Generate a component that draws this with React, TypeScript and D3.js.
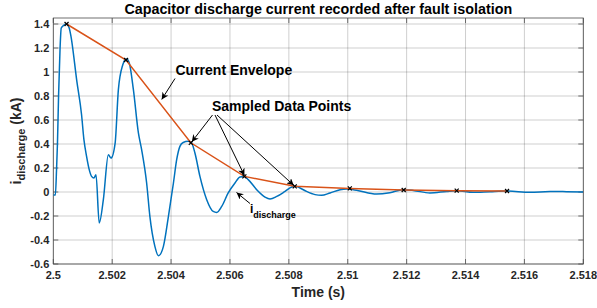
import * as d3 from "d3";

// ── Data ──────────────────────────────────────────────────────────────────────

const timeS = [
  2.5, 2.50007, 2.50011, 2.50014, 2.50018, 2.50023, 2.50027, 2.50034, 2.50045,
  2.50054, 2.50059, 2.5008, 2.50096, 2.50104, 2.50113, 2.50122, 2.5013, 2.50138,
  2.50145, 2.50156, 2.5017, 2.50187, 2.50196, 2.5021, 2.50221, 2.50236, 2.50244,
  2.50249, 2.50258, 2.50272, 2.50289, 2.503, 2.50317, 2.50328, 2.50345, 2.50357,
  2.50374, 2.50391, 2.50408, 2.50419, 2.5043, 2.50441, 2.50458, 2.50468, 2.50481,
  2.50498, 2.50521, 2.50543, 2.50555, 2.50572, 2.50594, 2.50617, 2.50634, 2.50648,
  2.50662, 2.50691, 2.50719, 2.50736, 2.50759, 2.50787, 2.5081, 2.50824, 2.50838,
  2.5086, 2.50889, 2.50911, 2.5094, 2.50974, 2.50996, 2.51019, 2.5103, 2.51098,
  2.51143, 2.51188, 2.51222, 2.51279, 2.51336, 2.5137, 2.51426, 2.51483, 2.5154,
  2.51619, 2.51687, 2.51743, 2.51799,
];

const currentKA = [
  -0.025, -0.025, 0.185, 0.394, 0.811, 1.2, 1.367, 1.386, 1.4,
  1.367, 1.311, 0.922, 0.644, 0.436, 0.297, 0.186, 0.13, 0.117,
  0.144, -0.258, -0.064, 0.311, 0.283, 0.408, 0.853, 1.061, 1.103,
  1.108, 1.075, 0.853, 0.492, 0.353, 0.075, -0.203, -0.453, -0.531,
  -0.453, -0.203, 0.075, 0.269, 0.38, 0.413, 0.422, 0.417, 0.325,
  0.13, -0.064, -0.162, -0.17, -0.12, -0.008, 0.075, 0.125, 0.13,
  0.103, 0.019, -0.042, -0.058, -0.037, 0.005, 0.042, 0.047, 0.033,
  0.005, -0.022, -0.028, -0.008, 0.019, 0.025, 0.019, 0.015, -0.017,
  -0.006, 0.019, 0.013, -0.008, 0.005, 0.011, -0.003, 0.003, 0.008,
  -0.003, 0.005, 0.003, 0,
];

const envelopeT = [2.50045, 2.50247, 2.50467, 2.50649, 2.5082, 2.51007, 2.5119, 2.5137, 2.51541];
const envelopeI = [1.4, 1.1, 0.41, 0.13, 0.047, 0.03, 0.017, 0.011, 0.008];

const xTicks = [2.5, 2.502, 2.504, 2.506, 2.508, 2.51, 2.512, 2.514, 2.516, 2.518];
const yTicks = [-0.6, -0.4, -0.2, 0, 0.2, 0.4, 0.6, 0.8, 1, 1.2, 1.4];

// ── Layout ────────────────────────────────────────────────────────────────────

const W = 597;
const H = 308;
const PLOT = { left: 53.3, right: 583.3, top: 18, bottom: 264 };
const FONT = "'Liberation Sans', Arial, Helvetica, sans-serif";
const TEXT = "#262626";
const BLUE = "#0072BD";
const ORANGE = "#D95319";

export default function App() {
  const x = d3.scaleLinear().domain([2.5, 2.518]).range([PLOT.left, PLOT.right]);
  const y = d3.scaleLinear().domain([-0.6, 1.45]).range([PLOT.bottom, PLOT.top]);

  const wave = d3
    .line<number>()
    .x((_, i) => x(timeS[i]))
    .y((d) => y(d))
    .curve(d3.curveMonotoneX);

  const env = d3
    .line<number>()
    .x((_, i) => x(envelopeT[i]))
    .y((d) => y(d));

  const fmt = (t: number) => String(+t.toFixed(3));

  // sampled-point helper
  const pt = (k: number): [number, number] => [x(envelopeT[k]), y(envelopeI[k])];

  const arrows: [number, number, number, number][] = [
    [175, 78.5, 161.7, 99.5],
    [212.5, 115, pt(2)[0] + 1, pt(2)[1] - 1],
    [215, 115, pt(3)[0], pt(3)[1] - 1],
    [217, 115, pt(4)[0] - 1, pt(4)[1] - 1],
    [250, 203.5, 236.5, 192.5],
  ];

  return (
    <svg
      width={W}
      height={H}
      style={{ position: "absolute", left: 0, top: 0, background: "#fff" }}
      fontFamily={FONT}
    >
      <defs>
        <marker
          id="head"
          viewBox="0 0 10 10"
          refX="10"
          refY="5"
          markerWidth="7"
          markerHeight="7"
          markerUnits="userSpaceOnUse"
          orient="auto"
        >
          <path d="M0,0 L10,5 L0,10 L3,5 Z" fill="#000" />
        </marker>
        <clipPath id="plotclip">
          <rect x={PLOT.left} y={PLOT.top} width={PLOT.right - PLOT.left} height={PLOT.bottom - PLOT.top} />
        </clipPath>
      </defs>

      {/* Grid */}
      <g stroke="#262626" strokeOpacity={0.22} strokeWidth={1}>
        {xTicks.map((t) => (
          <line key={`gx${t}`} x1={x(t)} x2={x(t)} y1={PLOT.top} y2={PLOT.bottom} />
        ))}
        {yTicks.map((t) => (
          <line key={`gy${t}`} x1={PLOT.left} x2={PLOT.right} y1={y(t)} y2={y(t)} />
        ))}
      </g>

      {/* Box + ticks */}
      <rect
        x={PLOT.left}
        y={PLOT.top}
        width={PLOT.right - PLOT.left}
        height={PLOT.bottom - PLOT.top}
        fill="none"
        stroke="#4d4d4d"
        strokeWidth={0.8}
      />
      <g stroke="#4d4d4d" strokeWidth={0.8}>
        {xTicks.map((t) => (
          <g key={`tx${t}`}>
            <line x1={x(t)} x2={x(t)} y1={PLOT.bottom} y2={PLOT.bottom - 5} />
            <line x1={x(t)} x2={x(t)} y1={PLOT.top} y2={PLOT.top + 5} />
          </g>
        ))}
        {yTicks.map((t) => (
          <g key={`ty${t}`}>
            <line x1={PLOT.left} x2={PLOT.left + 5} y1={y(t)} y2={y(t)} />
            <line x1={PLOT.right} x2={PLOT.right - 5} y1={y(t)} y2={y(t)} />
          </g>
        ))}
      </g>

      {/* Tick labels */}
      <g fontSize={11} fontWeight="bold" fill={TEXT}>
        {xTicks.map((t) => (
          <text key={`lx${t}`} x={x(t)} y={279} textAnchor="middle">
            {fmt(t)}
          </text>
        ))}
        {yTicks.map((t) => (
          <text key={`ly${t}`} x={PLOT.left - 4} y={y(t) + 4} textAnchor="end">
            {fmt(t)}
          </text>
        ))}
      </g>

      {/* Series */}
      <g clipPath="url(#plotclip)">
        <path d={wave(currentKA) ?? ""} fill="none" stroke={BLUE} strokeWidth={1.5} strokeLinejoin="round" />
        <path d={env(envelopeI) ?? ""} fill="none" stroke={ORANGE} strokeWidth={1.5} />
        {envelopeI.map((v, i) => {
          const cx = x(envelopeT[i]);
          const cy = y(v);
          return (
            <path
              key={`m${i}`}
              d={`M${cx - 2},${cy - 2}L${cx + 2},${cy + 2}M${cx - 2},${cy + 2}L${cx + 2},${cy - 2}`}
              stroke="#000"
              strokeWidth={1.2}
            />
          );
        })}
      </g>

      {/* Annotations */}
      <g stroke="#000" strokeWidth={1}>
        {arrows.map(([x1, y1, x2, y2], i) => (
          <line key={`a${i}`} x1={x1} y1={y1} x2={x2} y2={y2} markerEnd="url(#head)" />
        ))}
      </g>
      <g fontWeight="bold" fill="#000">
        <text x={175.5} y={75} fontSize={14}>Current Envelope</text>
        <text x={212} y={111} fontSize={14}>Sampled Data Points</text>
        <text x={250} y={213} fontSize={12}>
          i<tspan fontSize={9} dy={5}>discharge</tspan>
        </text>
      </g>

      {/* Title and axis labels */}
      <text x={(PLOT.left + PLOT.right) / 2} y={13.5} textAnchor="middle" fontSize={14.3} fontWeight="bold" fill="#000">
        Capacitor discharge current recorded after fault isolation
      </text>
      <text x={(PLOT.left + PLOT.right) / 2} y={297} textAnchor="middle" fontSize={14} fontWeight="bold" fill={TEXT}>
        Time (s)
      </text>
      <text
        transform={`translate(21,${(PLOT.top + PLOT.bottom) / 2}) rotate(-90)`}
        textAnchor="middle"
        fontSize={14}
        fontWeight="bold"
        fill={TEXT}
      >
        i<tspan fontSize={11} dy={4}>discharge</tspan>
        <tspan dy={-4}> (kA)</tspan>
      </text>
    </svg>
  );
}
